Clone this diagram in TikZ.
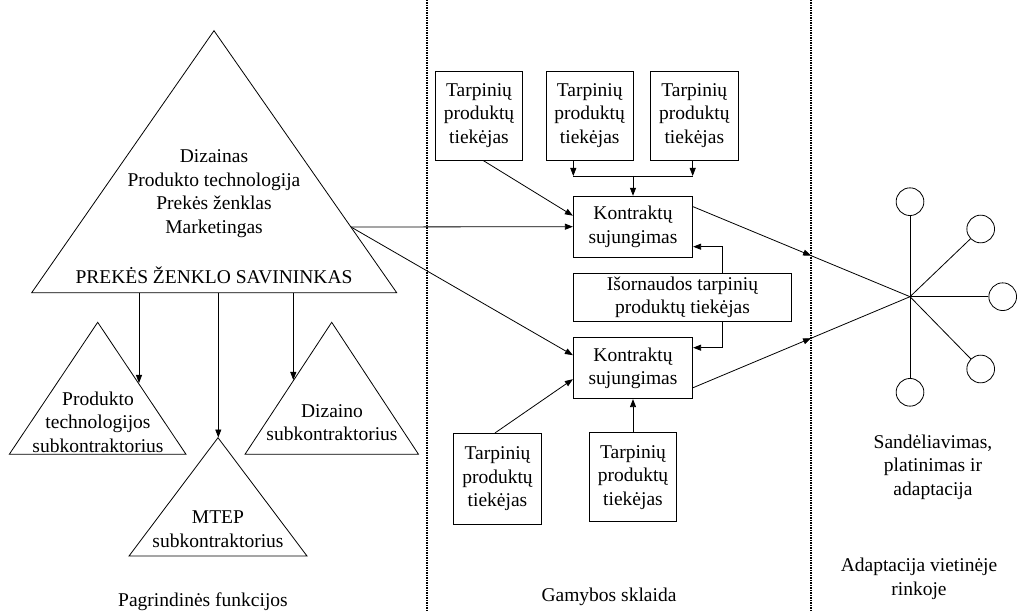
\documentclass[tikz,border=0pt]{standalone}
\usepackage{fontspec}
\setmainfont{Liberation Serif}
\usetikzlibrary{arrows.meta,calc}
\begin{document}
\begin{tikzpicture}[x=1pt,y=-1pt,
  every node/.style={font=\fontsize{19.5}{23.5}\selectfont, inner sep=0pt, align=center},
  ln/.style={line width=0.8pt, black},
  arr/.style={ln, -{Triangle[length=8pt,width=6pt]}},
  boxnode/.style={draw, line width=0.8pt, minimum height=89pt},
  kbox/.style={draw, line width=0.8pt, minimum width=119.4pt, minimum height=61pt},
  dot/.style={draw, line width=0.8pt, circle, minimum size=27.7pt},
  sep/.style={line width=1.1pt, dash pattern=on 1.1pt off 1.4pt}]
\useasboundingbox (0,0) rectangle (1018,612);

% separators
\draw[sep] (427,0) -- (427,612);
\draw[sep] (811,0) -- (811,612);

% big triangle
\coordinate (BA) at (214,30.7);
\coordinate (BL) at (31.7,292.7);
\coordinate (BR) at (396.7,292.7);
\draw[ln] (BA) -- (BL) -- (BR) -- cycle;
\node (btext) at (214,193.5) {Dizainas\\Produkto technologija\\Prekės ženklas\\Marketingas};
\node[anchor=base] (owner) at (214,283.8) {PREKĖS ŽENKLO SAVININKAS};

% small triangles
\draw[ln] (97.7,322.3) -- (9.3,454.3) -- (186,454.3) -- cycle;
\node (ptext) at (98,422.3) {Produkto\\technologijos\\subkontraktorius};
\draw[ln] (331.7,322.3) -- (245,454.3) -- (418.5,454.3) -- cycle;
\node (dtext) at (332,422.5) {Dizaino\\subkontraktorius};
\draw[ln] (218,437.7) -- (129,556) -- (307,556) -- cycle;
\node (mtext) at (218,529) {MTEP\\subkontraktorius};

% arrows from big triangle
\coordinate (s1) at (139,292.7);
\coordinate (e1) at (139,383);
\coordinate (s2) at (218.3,292.7);
\coordinate (e2) at (218.3,437.5);
\coordinate (s3) at (293.3,292.7);
\coordinate (e3) at (293.3,380);
\draw[arr] (s1) -- (e1);
\draw[arr] (s2) -- (e2);
\draw[arr] (s3) -- (e3);

\node (pf) at (203,601.5) {Pagrindinės funkcijos};

% middle boxes
\node[boxnode, minimum width=86.6pt] (T1) at (479,115.5) {Tarpinių\\produktų\\tiekėjas};
\node[boxnode, minimum width=87.3pt] (T2) at (589.7,115.5) {Tarpinių\\produktų\\tiekėjas};
\node[boxnode, minimum width=88pt] (T3) at (694.3,115.5) {Tarpinių\\produktų\\tiekėjas};
\node[kbox] (K1) at (633,226.7) {Kontraktų\\sujungimas};
\node[draw, line width=0.8pt, minimum width=218.4pt, minimum height=48.4pt] (I) at (682.5,297.5) {Išornaudos tarpinių\\produktų tiekėjas};
\node[kbox] (K2) at (633,368.2) {Kontraktų\\sujungimas};
\node[boxnode, minimum width=88.4pt, minimum height=90.7pt] (B1) at (497.5,478.7) {Tarpinių\\produktų\\tiekėjas};
\node[boxnode, minimum width=87.4pt] (B2) at (633,477.2) {Tarpinių\\produktų\\tiekėjas};

\node (gs) at (609,596.5) {Gamybos sklaida};

% connectors middle
\coordinate (ts) at (351,227);
\coordinate (jL) at (573.3,176);
\coordinate (jR) at (692.7,176);
\coordinate (jM) at (633,176);
\draw[arr] ([xshift=4pt]T1.south) -- ([yshift=11pt]K1.west);
\draw[arr] (ts) -- (K1.west);
\draw[arr] (ts) -- ([yshift=13pt]K2.west);
\draw[arr] (T2.south -| jL) -- (jL);
\draw[arr] (T3.south -| jR) -- (jR);
\draw[ln] (jL) -- (jR);
\draw[arr] (jM) -- (K1.north);
\draw[arr] ([xshift=39.8pt]I.north) |- ([yshift=-20pt]K1.east);
\draw[arr] ([xshift=39.8pt]I.south) |- ([yshift=20.5pt]K2.east);
\draw[arr] ([xshift=-2.5pt]B1.north) -- ([yshift=-11pt]K2.west);
\draw[arr] (B2.north) -- (K2.south);

% hub
\coordinate (hub) at (910,296.7);
\coordinate (K1o) at ([yshift=20pt]K1.east);
\coordinate (K2o) at ([yshift=-19.5pt]K2.east);
\coordinate (m1) at ($(K1o)!0.544!(hub)$);
\coordinate (m2) at ($(K2o)!0.544!(hub)$);
\draw[arr] (K1o) -- (m1);
\draw[ln] (m1) -- (hub);
\draw[arr] (K2o) -- (m2);
\draw[ln] (m2) -- (hub);

\node[dot] (c1) at (910,201.7) {};
\node[dot] (c2) at (980.7,229) {};
\node[dot] (c3) at (1002.7,296.7) {};
\node[dot] (c4) at (980.7,369) {};
\node[dot] (c5) at (910,392.3) {};
\foreach \c in {c1,c2,c3,c4,c5} \draw[ln] (hub) -- (\c);

\node (sp) at (933,467.3) {Sandėliavimas,\\platinimas ir\\adaptacija};
\node (av) at (919,579) {Adaptacija vietinėje\\rinkoje};
\end{tikzpicture}
\end{document}
